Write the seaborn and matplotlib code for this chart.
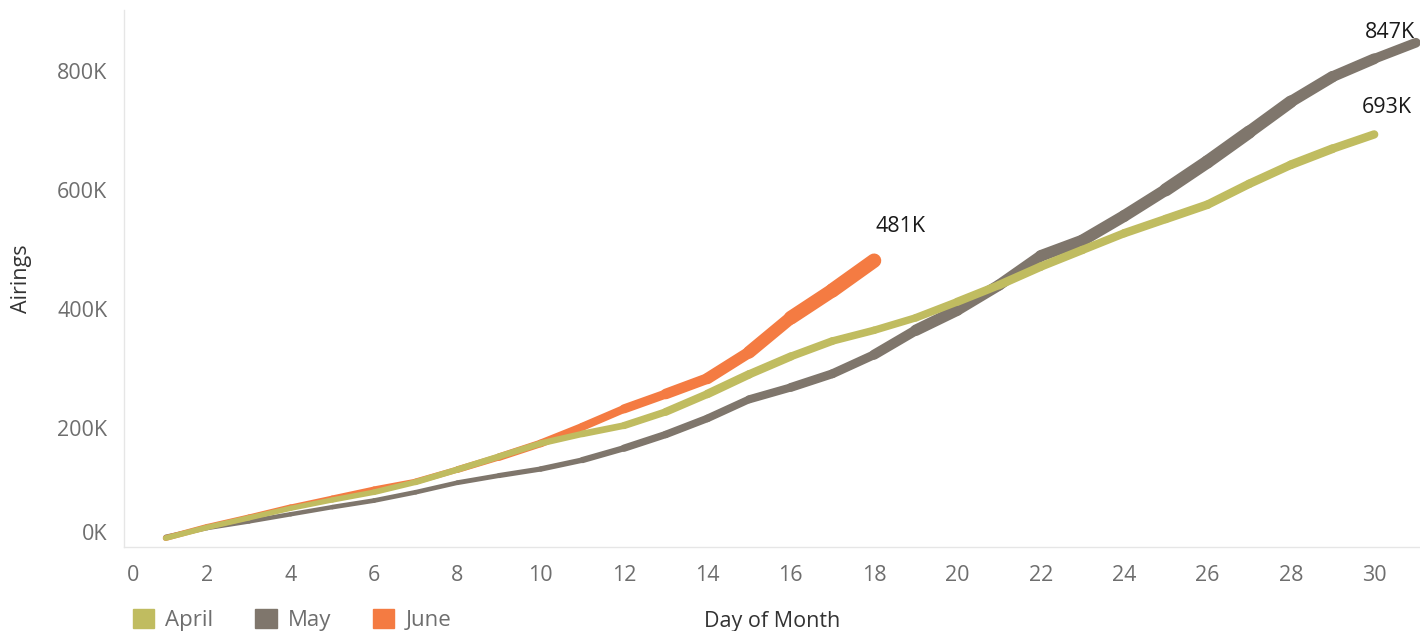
import matplotlib
matplotlib.use("Agg")
import matplotlib.pyplot as plt
import matplotlib.patches as mpatches
import matplotlib.transforms as mtransforms
import seaborn as sns
import pandas as pd
import numpy as np

# valores (acumulado de emisiones por dia del mes)
months = ["April", "May", "June"]
april = [15, 33, 49, 65, 79, 92, 109, 130, 152, 174, 190, 204, 227, 257, 290,
         320, 346, 364, 385, 412, 440, 471, 499, 527, 551, 575, 610, 642, 669, 693]
may = [17, 32, 43, 55, 67, 78, 92, 108, 120, 131, 146, 166, 189, 216, 248, 268,
       291, 323, 364, 398, 440, 489, 515, 556, 600, 647, 697, 748, 790, 820, 847]
june = [15, 34, 50, 67, 82, 97, 110, 130, 151, 174, 202, 232, 257, 283, 327,
        385, 431, 481]
colors = {"April": "#c0bc60", "May": "#7f766c", "June": "#f47b42"}
y_ticks = [0, 200000, 400000, 600000, 800000]
x_ticks = list(range(0, 31, 2))

series = {"April": april, "May": may, "June": june}

# un segmento por dia: el grosor sigue el incremento diario (suavizado)
rows = []
for m, vals in series.items():
    vals = np.array(vals) * 1000
    inc = pd.Series(np.diff(vals)).rolling(5, center=True, min_periods=1).mean()
    for i in range(len(vals) - 1):
        for j in (i, i + 1):
            rows.append({"Month": m, "Day": j + 1, "Airings": vals[j],
                         "Segment": f"{m}-{i}", "Increment": inc[i]})
df = pd.DataFrame(rows)

sns.set_theme(style="white")
plt.rcParams["font.family"] = ["Open Sans", "DejaVu Sans"]

fig = plt.figure(figsize=(14.2, 6.31), dpi=100)
ax = fig.add_axes([124 / 1420, 1 - 547 / 631, 1 - 124 / 1420, (547 - 10) / 631])

# orden de dibujo: May abajo, April arriba
for m in ["May", "June", "April"]:
    sns.lineplot(data=df[df["Month"] == m], x="Day", y="Airings",
                 hue="Month", palette=colors, size="Increment",
                 sizes=(3.2, 11.0), size_norm=(12000, 55000),
                 units="Segment", estimator=None, sort=False,
                 legend=False, ax=ax,
                 solid_capstyle="round", solid_joinstyle="round")

ax.set_xlim(0, 31.1)
ax.set_ylim(0, 902000)
ax.set_xticks(x_ticks)
ax.set_yticks(y_ticks)
ax.set_yticklabels([f"{v // 1000:.0f}K" for v in y_ticks])

for s in ["top", "right"]:
    ax.spines[s].set_visible(False)
for s in ["left", "bottom"]:
    ax.spines[s].set_color("#e6e6e6")
    ax.spines[s].set_linewidth(1)

ax.tick_params(axis="both", colors="#e6e6e6", labelcolor="#6e6e6e",
               labelsize=15.5, length=6, width=1, direction="out")
ax.tick_params(axis="x", pad=7)
ax.tick_params(axis="y", pad=6)

# Tableau mete la etiqueta 0 dentro del area
ylab0 = ax.get_yticklabels()[0]
ylab0.set_transform(ylab0.get_transform() +
                    mtransforms.ScaledTranslation(0, 15 / 100, fig.dpi_scale_trans))
xlab0 = ax.get_xticklabels()[0]
xlab0.set_transform(xlab0.get_transform() +
                    mtransforms.ScaledTranslation(9 / 100, 0, fig.dpi_scale_trans))

ax.set_xlabel("Day of Month", fontsize=15.5, color="#333333", labelpad=18)
ax.set_ylabel("Airings", fontsize=15.5, color="#333333", labelpad=18)

# etiquetas al final de cada linea
offsets = {"June": (26, 34), "April": (13, 27), "May": (-26, 10)}
for m, vals in series.items():
    ax.annotate(f"{vals[-1]}K", (len(vals), vals[-1] * 1000),
                xytext=offsets[m], textcoords="offset pixels",
                ha="center", va="center", fontsize=15.5, color="#1a1a1a",
                annotation_clip=False)

handles = [mpatches.Patch(color=colors[m], label=m) for m in months]
leg = fig.legend(handles=handles, loc="lower left", ncol=3,
                 bbox_to_anchor=(124 / 1420, -0.014), frameon=False,
                 fontsize=16, handlelength=0.95, handleheight=0.95,
                 handletextpad=0.5, columnspacing=1.9, borderaxespad=0)
for t in leg.get_texts():
    t.set_color("#6e6e6e")

fig.savefig("out.png", dpi=100)
